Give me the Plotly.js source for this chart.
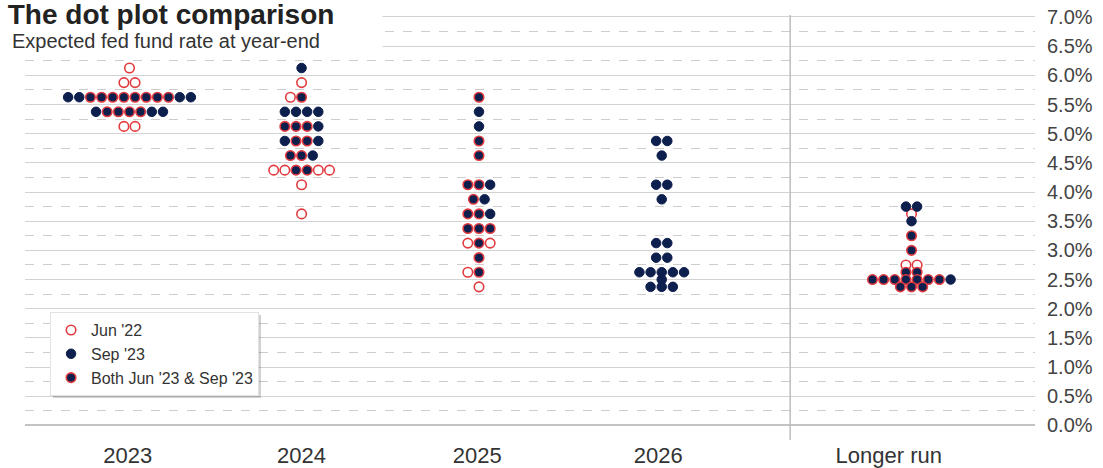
<!DOCTYPE html>
<html>
<head>
<meta charset="utf-8">
<script src="https://cdn.plot.ly/plotly-3.0.1.min.js"></script>
<style>
  html, body { margin: 0; padding: 0; background: #ffffff; }
  #chart { width: 1103px; height: 468px; }
</style>
</head>
<body>
<div id="chart"></div>
<script>
// ---- Data ----
// Codes per slot: J = Jun only (open circle), S = Sep '23 only (navy), B = both, " " = empty slot
const columns = ["2023", "2024", "2025", "2026", "Longer run"];

const rates2023 = [6.125, 5.875, 5.625, 5.375, 5.125];
const dots2023  = ["J", "JJ", "SSBBBBBBBBSS", "SBBBBSS", "JJ"];

const rates2024 = [6.125, 5.875, 5.625, 5.375, 5.125, 4.875, 4.625, 4.375, 4.125, 3.625];
const dots2024  = ["S", "J", "JB ", "SSSS", "BBBS", "SBBS", "BBS", "JJBBJJ", "J", "J"];

const rates2025 = [5.625, 5.375, 5.125, 4.875, 4.625, 4.125, 3.875, 3.625, 3.375, 3.125, 2.875, 2.625, 2.375];
const dots2025  = ["B", "S", "S", "B", "B", "BBS", "BS", "BBS", "BBB", "JBJ", "B", "JB ", "J"];

const rates2026 = [4.875, 4.625, 4.125, 3.875, 3.125, 2.875, 2.625, 2.5, 2.375];
const dots2026  = ["SS", "S", "SS", "S", "SS", "SS", "SSSSS", "S", "SSS"];

const ratesLR = [3.75, 3.625, 3.5, 3.25, 3.0, 2.75, 2.625, 2.5, 2.375];
const dotsLR  = ["SS", "J", "S", "B", "B", "JJ", "BB", "BBBBBBBS", "BBB"];

const seriesNames = { J: "Jun '22", S: "Sep '23", B: "Both Jun '23 & Sep '23" };
const yTickVals = [0, 0.5, 1, 1.5, 2, 2.5, 3, 3.5, 4, 4.5, 5, 5.5, 6, 6.5, 7];
const yTickText = ["0.0%", "0.5%", "1.0%", "1.5%", "2.0%", "2.5%", "3.0%", "3.5%",
                   "4.0%", "4.5%", "5.0%", "5.5%", "6.0%", "6.5%", "7.0%"];

// ---- Layout constants ----
const colPos = [0, 0.97, 1.97, 3.0, 4.408];
const labelPos = [-0.01, 0.97, 1.96, 2.98, 4.28];
const slot = 0.0629;
const navy = "#0c1f4d";
const red = "#e23b3f";

const allRates = [rates2023, rates2024, rates2025, rates2026, ratesLR];
const allDots = [dots2023, dots2024, dots2025, dots2026, dotsLR];

const pts = { J: { x: [], y: [] }, S: { x: [], y: [] }, B: { x: [], y: [] } };
allRates.forEach((rates, c) => {
  rates.forEach((r, i) => {
    const row = allDots[c][i];
    const n = row.length;
    for (let k = 0; k < n; k++) {
      const code = row[k];
      if (!pts[code]) continue;
      pts[code].x.push(colPos[c] + (k - (n - 1) / 2) * slot);
      pts[code].y.push(r);
    }
  });
});

const traces = [
  { type: "scatter", mode: "markers", name: seriesNames.J, x: pts.J.x, y: pts.J.y,
    marker: { size: 9.5, color: "#ffffff", line: { color: red, width: 1.6 } }, hoverinfo: "skip" },
  { type: "scatter", mode: "markers", name: seriesNames.S, x: pts.S.x, y: pts.S.y,
    marker: { size: 9.5, color: navy, line: { color: navy, width: 1 } }, hoverinfo: "skip" },
  { type: "scatter", mode: "markers", name: seriesNames.B, x: pts.B.x, y: pts.B.y,
    marker: { size: 9.5, color: navy, line: { color: red, width: 1.6 } }, hoverinfo: "skip" }
];

const FONT = "Arial, 'Liberation Sans', Helvetica, sans-serif";
const sepX = (colPos[3] + colPos[4]) / 2 + 0.02;

const layout = {
  width: 1103, height: 468,
  paper_bgcolor: "#ffffff", plot_bgcolor: "#ffffff",
  margin: { l: 25, r: 68, t: 15, b: 28 },
  font: { family: FONT, color: "#333333" },
  showlegend: true,
  title: {
    text: "The dot plot comparison",
    font: { family: FONT, size: 28, weight: 700, color: "#222222" },
    xref: "container", yref: "container", x: 0.007, xanchor: "left",
    y: 0.99, yanchor: "top", pad: { t: 0, b: 0, l: 0, r: 0 }
  },
  xaxis: {
    range: [-0.589, 5.104],
    tickvals: labelPos, ticktext: columns,
    showgrid: false, zeroline: false, showline: false, ticks: "",
    tickfont: { family: FONT, size: 22, color: "#333333" },
    fixedrange: true
  },
  yaxis: {
    side: "right",
    range: [-0.25, 7.034],
    tickvals: yTickVals, ticktext: yTickText,
    tickfont: { family: FONT, size: 20, color: "#444444" },
    ticks: "", ticklabelstandoff: 11,
    showgrid: true, gridcolor: "#d2d2d2", gridwidth: 1,
    minor: { dtick: 0.25, tick0: 0, showgrid: true, gridcolor: "#cdcdcd", griddash: "dash", gridwidth: 1 },
    zeroline: true, zerolinecolor: "#c4c4c4", zerolinewidth: 2,
    showline: false, fixedrange: true
  },
  legend: {
    x: 0.0248, y: 0.301, xanchor: "left", yanchor: "top",
    bgcolor: "#ffffff", bordercolor: "#e2e2e2", borderwidth: 1,
    font: { family: FONT, size: 16, color: "#333333" },
    itemclick: false, itemdoubleclick: false
  },
  shapes: [
    { type: "line", xref: "x", yref: "paper", x0: sepX, x1: sepX, y0: 0, y1: 1,
      line: { color: "#bdbdbd", width: 1.5 }, layer: "above" },
    { type: "rect", xref: "paper", yref: "paper", x0: -0.03, x1: 0.354, y0: 0.913, y1: 1.1,
      fillcolor: "#ffffff", line: { width: 0 }, layer: "above" },
    { type: "rect", xref: "paper", yref: "paper", x0: 0.0277, x1: 0.2337, y0: 0.0988, y1: 0.294,
      fillcolor: "rgba(0,0,0,0.18)", line: { width: 0 }, layer: "above" }
  ],
  annotations: [
    { text: "Expected fed fund rate at year-end", xref: "paper", yref: "paper",
      x: -0.0149, y: 0.94, xanchor: "left", yanchor: "middle", showarrow: false,
      font: { family: FONT, size: 20, color: "#333333" } }
  ]
};

Plotly.newPlot("chart", traces, layout, { displayModeBar: false, staticPlot: true });
</script>
</body>
</html>
